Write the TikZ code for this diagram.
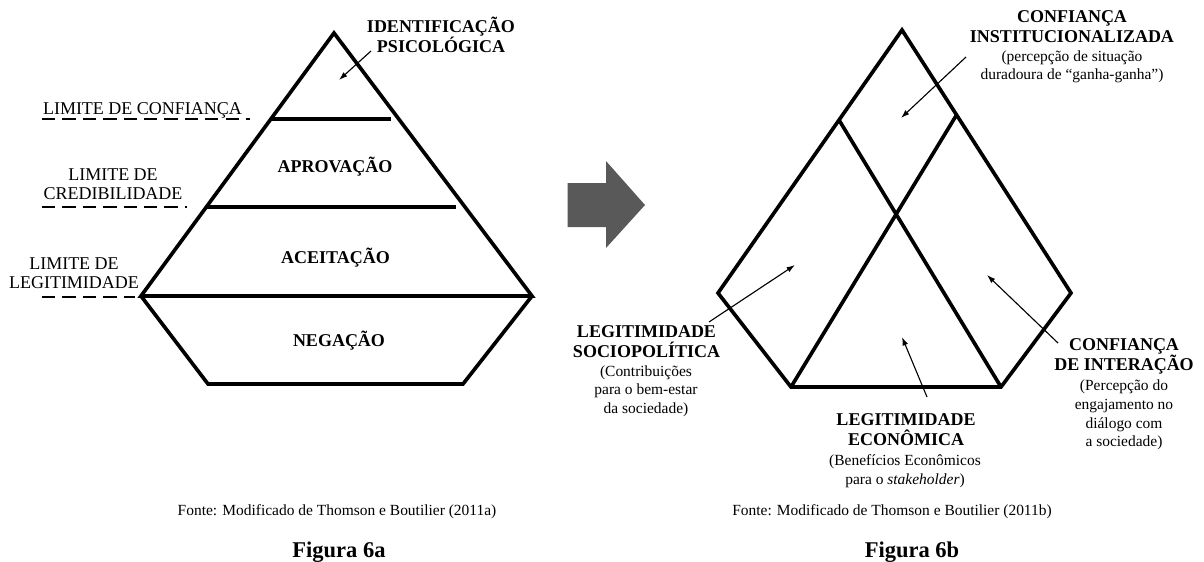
\documentclass[tikz,border=0pt]{standalone}
\usepackage{fontspec}
\setmainfont{Liberation Serif}
\usetikzlibrary{arrows.meta}

\definecolor{arrowgray}{HTML}{595959}

\tikzset{
  thickline/.style={line width=2.6pt, line join=miter},
  limitline/.style={line width=1.8pt, dash pattern=on 9.5pt off 5pt},
  pointerarrow/.style={line width=0.8pt, -{Latex[length=6pt,width=4pt]}},
  boldlabel/.style={font=\fontsize{12.8}{14.2}\selectfont\bfseries, align=center, inner sep=0pt},
  plainlabel/.style={font=\fontsize{12.8}{13.9}\selectfont, align=center, inner sep=0pt},
  notetext/.style={font=\fontsize{11}{13.2}\selectfont, align=center, inner sep=0pt},
  figlabel/.style={font=\fontsize{16}{19}\selectfont\bfseries, inner sep=0pt}
}

\begin{document}
\begin{tikzpicture}[x=0.025cm, y=-0.025cm]
  \useasboundingbox (0,0) rectangle (1204,561);

  % Figura 6a
  \coordinate (apexA) at (334,33);
  \coordinate (leftA) at (141,296);
  \coordinate (rightA) at (532,296);
  \coordinate (lowLeftA) at (208,384);
  \coordinate (lowRightA) at (463,384);
  \coordinate (trustA) at (271,119);
  \coordinate (trustEndA) at (391,119);
  \coordinate (credA) at (206,207);
  \coordinate (credEndA) at (456,207);
  \draw[thickline] (leftA) -- (apexA) -- (rightA) -- cycle
    (leftA) -- (lowLeftA) -- (lowRightA) -- (rightA);
  \draw[thickline] (trustA) -- (trustEndA)
    (credA) -- (credEndA);
  \draw[limitline] (42,119) -- (250,119)
    (42,207) -- (187,207)
    (42,297) -- (135,297);

  \node[boldlabel] (identLabel) at (441,35) {IDENTIFICAÇÃO\\PSICOLÓGICA};
  \node[plainlabel, anchor=base] (trustLimit) at (142.5,114) {LIMITE DE CONFIANÇA};
  \node[plainlabel] (credLimit) at (113,184) {LIMITE DE\\CREDIBILIDADE};
  \node[plainlabel] (legLimit) at (74,273) {LIMITE DE\\LEGITIMIDADE};
  \node[boldlabel, anchor=base] (approvalLabel) at (335,172.5) {APROVAÇÃO};
  \node[boldlabel, anchor=base] (acceptLabel) at (335.5,263) {ACEITAÇÃO};
  \node[boldlabel, anchor=base] (denialLabel) at (339,346) {NEGAÇÃO};

  \coordinate (identTail) at (371,51);
  \coordinate (identTip) at (339,80);
  \draw[pointerarrow] (identTail) -- (identTip);

  \node[notetext, anchor=base] (sourceA) at (337,515) {Fonte: Modificado de Thomson e Boutilier (2011a)};
  \node[figlabel, anchor=base] (figA) at (339,557) {Figura 6a};

  % seta cinza
  \fill[arrowgray] (567.5,183) -- (606,183) -- (606,161) -- (645,205)
    -- (606,248) -- (606,227) -- (567.5,227) -- cycle;

  % Figura 6b
  \coordinate (apexB) at (902,30);
  \coordinate (leftB) at (718,293);
  \coordinate (rightB) at (1071,293);
  \coordinate (lowLeftB) at (791,387);
  \coordinate (lowRightB) at (1001,387);
  \coordinate (joinL) at (839,120);
  \coordinate (joinR) at (956.5,115);
  \draw[thickline] (leftB) -- (apexB) -- (rightB) -- (lowRightB) -- (lowLeftB) -- cycle
    (joinL) -- (lowRightB)
    (joinR) -- (lowLeftB);

  \node[boldlabel] (instTitle) at (1072,27) {CONFIANÇA\\INSTITUCIONALIZADA};
  \node[notetext] (instNote) at (1072,67) {(percepção de situação\\duradoura de ``ganha-ganha'')};
  \node[boldlabel] (socioTitle) at (646.5,342) {LEGITIMIDADE\\SOCIOPOLÍTICA};
  \node[notetext] (socioNote) at (646,391) {(Contribuições\\para o bem-estar\\da sociedade)};
  \node[boldlabel] (econTitle) at (906,430) {LEGITIMIDADE\\ECONÔMICA};
  \node[notetext] (econNote) at (905,471) {(Benefícios Econômicos\\para o \textit{stakeholder})};
  \node[boldlabel] (interTitle) at (1124,356) {CONFIANÇA\\DE INTERAÇÃO};
  \node[notetext] (interNote) at (1124,415) {(Percepção do\\engajamento no\\diálogo com\\a sociedade)};

  \coordinate (instTail) at (966,57);
  \coordinate (instTip) at (901,118);
  \coordinate (socioTail) at (709,322);
  \coordinate (socioTip) at (795,265);
  \coordinate (econTail) at (927,397);
  \coordinate (econTip) at (902,337);
  \coordinate (interTail) at (1058,343);
  \coordinate (interTip) at (987,275);
  \draw[pointerarrow] (instTail) -- (instTip);
  \draw[pointerarrow] (socioTail) -- (socioTip);
  \draw[pointerarrow] (econTail) -- (econTip);
  \draw[pointerarrow] (interTail) -- (interTip);

  \node[notetext, anchor=base] (sourceB) at (892,515) {Fonte: Modificado de Thomson e Boutilier (2011b)};
  \node[figlabel, anchor=base] (figB) at (912,557) {Figura 6b};
\end{tikzpicture}
\end{document}
